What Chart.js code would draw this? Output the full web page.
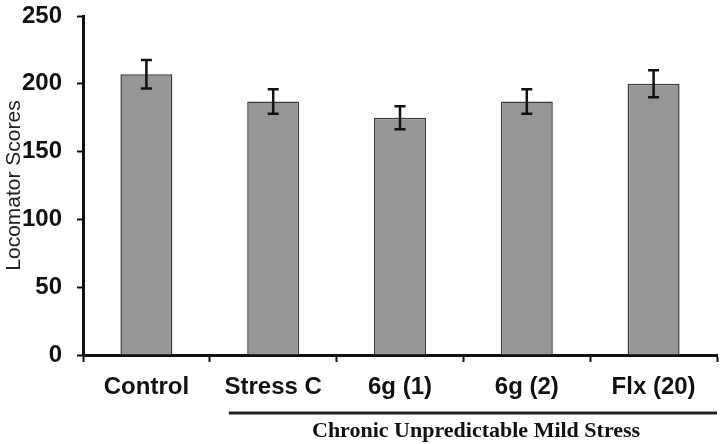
<!DOCTYPE html>
<html>
<head>
<meta charset="utf-8">
<script src="https://cdn.jsdelivr.net/npm/chart.js@4.4.1/dist/chart.umd.min.js"></script>
<style>
  html, body { margin: 0; padding: 0; background: #fff; }
  #wrap { width: 722px; height: 444px; }
</style>
</head>
<body>
<div id="wrap"><canvas id="chart" width="722" height="444"></canvas></div>
<script>
// chart data
const groups = ["Control", "Stress C", "6g (1)", "6g (2)", "Flx (20)"];
const scores = [207, 187, 175, 187, 200];
const scoreErr = [10.5, 9, 8.5, 9, 10];
const yTicks = [0, 50, 100, 150, 200, 250];
const bracketLabel = "Chronic Unpredictable Mild Stress";

// error bars drawn from the scales
const errorBars = {
  id: "errorBars",
  afterDatasetsDraw(chart) {
    const ctx = chart.ctx;
    const y = chart.scales.y;
    const meta = chart.getDatasetMeta(0);
    ctx.save();
    ctx.strokeStyle = "#111";
    ctx.lineWidth = 2.5;
    meta.data.forEach(function (bar, i) {
      const top = y.getPixelForValue(scores[i] + scoreErr[i]);
      const bot = y.getPixelForValue(scores[i] - scoreErr[i]);
      ctx.beginPath();
      ctx.moveTo(bar.x, top);
      ctx.lineTo(bar.x, bot);
      ctx.moveTo(bar.x - 5.5, top);
      ctx.lineTo(bar.x + 5.5, top);
      ctx.moveTo(bar.x - 5.5, bot);
      ctx.lineTo(bar.x + 5.5, bot);
      ctx.stroke();
    });
    ctx.restore();
  }
};

// bracket under the stressed groups
const stressBracket = {
  id: "stressBracket",
  afterDraw(chart) {
    const ctx = chart.ctx;
    const x = chart.scales.x;
    const x1 = x.getPixelForValue(0.65);
    const x2 = x.getPixelForValue(4.5);
    ctx.save();
    ctx.strokeStyle = "#222";
    ctx.lineWidth = 3;
    ctx.beginPath();
    ctx.moveTo(x1, 413);
    ctx.lineTo(x2, 413);
    ctx.stroke();
    ctx.fillStyle = "#111";
    ctx.font = "bold 22px 'Liberation Serif', 'Times New Roman', serif";
    ctx.textAlign = "center";
    ctx.textBaseline = "middle";
    ctx.fillText(bracketLabel, x.getPixelForValue(2.6), 431);
    ctx.restore();
  }
};

new Chart(document.getElementById("chart").getContext("2d"), {
  type: "bar",
  data: {
    labels: groups,
    datasets: [{
      data: scores,
      backgroundColor: "#969696",
      borderColor: "#3a3a3a",
      borderWidth: 1.5,
      categoryPercentage: 1,
      barPercentage: 0.41
    }]
  },
  options: {
    responsive: false,
    animation: false,
    layout: { padding: { top: 16, right: 5, left: 0, bottom: 0 } },
    plugins: { legend: { display: false }, tooltip: { enabled: false } },
    scales: {
      x: {
        afterFit(scale) { scale.height = 89; },
        grid: { drawOnChartArea: false, offset: true, tickLength: 7, tickWidth: 2, color: "#111" },
        border: { color: "#111", width: 3 },
        ticks: {
          color: "#111",
          padding: 11,
          font: { family: "'Liberation Sans', Arial, sans-serif", size: 24, weight: "bold" }
        }
      },
      y: {
        min: 0,
        max: 250,
        afterFit(scale) {
          scale.width = 83;
          scale.paddingTop = 0;
          scale.paddingBottom = 0;
        },
        afterBuildTicks(scale) { scale.ticks = yTicks.map(function (v) { return { value: v }; }); },
        grid: { drawOnChartArea: false, tickLength: 6, tickWidth: 2, color: "#111" },
        border: { color: "#111", width: 3 },
        ticks: {
          color: "#111",
          padding: 15,
          font: { family: "'Liberation Sans', Arial, sans-serif", size: 24, weight: "bold" }
        },
        title: {
          display: true,
          text: "Locomator Scores",
          color: "#222",
          padding: { top: 2, bottom: 0 },
          font: { family: "'Liberation Sans', Arial, sans-serif", size: 21 }
        }
      }
    }
  },
  plugins: [errorBars, stressBracket]
});
</script>
</body>
</html>
